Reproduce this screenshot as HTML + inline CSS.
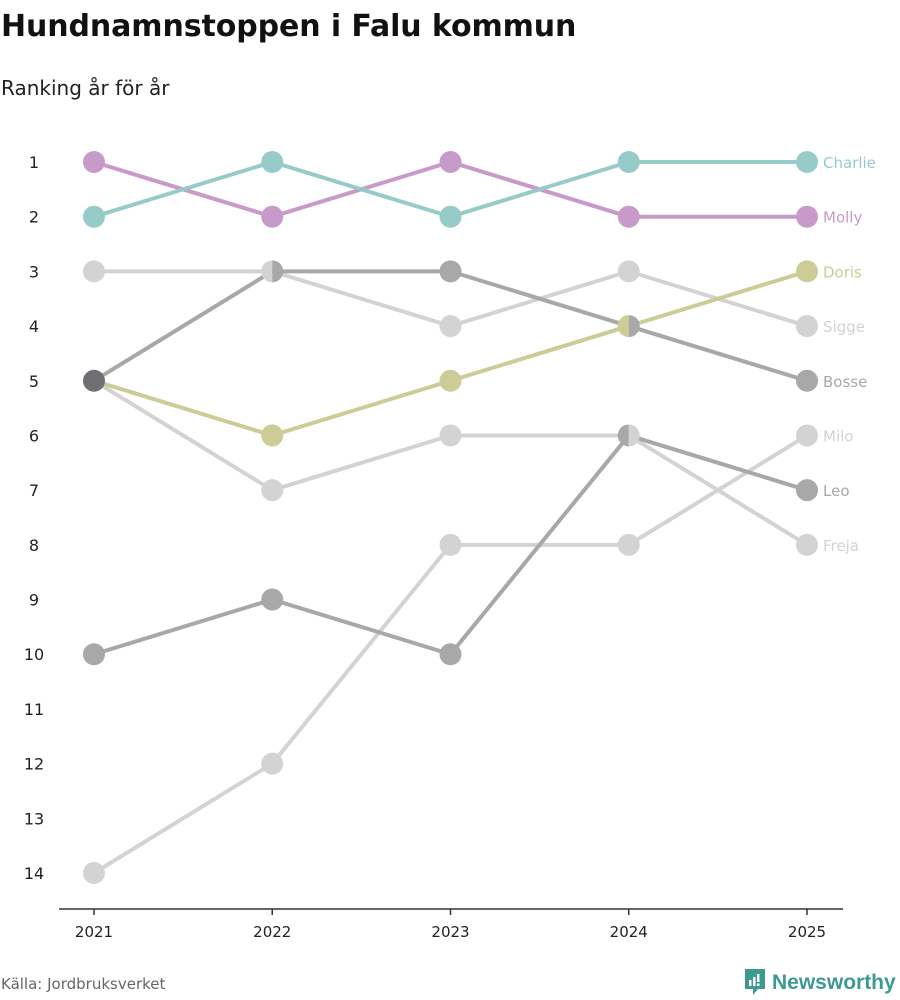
<!DOCTYPE html>
<html><head><meta charset="utf-8">
<style>
body{margin:0;background:#fff;font-family:"DejaVu Sans","Liberation Sans",sans-serif;}
#wrap{position:relative;width:900px;height:1000px;overflow:hidden;}
</style></head>
<body>
<div id="wrap">
<div style="position:absolute;left:1px;top:9px;font-size:30px;font-weight:bold;color:#111;letter-spacing:-0.1px">Hundnamnstoppen i Falu kommun</div>
<div style="position:absolute;left:1px;top:76px;font-size:20px;color:#222">Ranking år för år</div>
<svg id="chart" width="900" height="1000" style="position:absolute;left:0;top:0"></svg>
<div style="position:absolute;left:1px;top:975px;font-size:15px;color:#666">Källa: Jordbruksverket</div>
<div style="position:absolute;left:743px;top:968px;display:flex;align-items:center">
<svg width="24" height="30" viewBox="0 0 24 30"><path d="M2 1h20v20h-7l-5 6v-6H2z" fill="#3d9a91"/><rect x="6" y="12" width="2.5" height="6" fill="#fff"/><rect x="10" y="9" width="2.5" height="9" fill="#fff"/><rect x="14" y="6" width="2.5" height="8" fill="#fff"/><rect x="14" y="15.5" width="2.5" height="2.5" fill="#fff"/></svg>
<span style="font-family:'Liberation Sans',sans-serif;font-size:21px;font-weight:bold;color:#3d9a91;margin-left:5px">Newsworthy</span></div>
</div>
<script>
const years=[2021,2022,2023,2024,2025];
const seriesNames=["Charlie","Molly","Doris","Sigge","Bosse","Milo","Leo","Freja"];
const seriesColors=["#96cbc9","#c89ac9","#cbcc96","#d3d3d3","#a8a8a8","#d3d3d3","#a8a8a8","#d3d3d3"];
const charlie=[2,1,2,1,1];
const molly=[1,2,1,2,2];
const doris=[5,6,5,4,3];
const sigge=[3,3,4,3,4];
const bosse=[5,3,3,4,5];
const milo=[14,12,8,8,6];
const leo=[10,9,10,6,7];
const freja=[5,7,6,6,8];
const rankTicks=[1,2,3,4,5,6,7,8,9,10,11,12,13,14];
const seriesValues=[charlie,molly,doris,sigge,bosse,milo,leo,freja];

const NS="http://www.w3.org/2000/svg";
const svg=document.getElementById('chart');
function x(i){return 94+i*(807-94)/(years.length-1);}
function y(r){return 162+(r-1)*(873-162)/13;}
function el(t,a){const e=document.createElementNS(NS,t);for(const k in a)e.setAttribute(k,a[k]);svg.appendChild(e);return e;}

const ax=el('line',{x1:59,x2:843,y1:909,y2:909,stroke:'#333','stroke-width':1.5});


years.forEach((yr,i)=>{
  const t=el('line',{x1:x(i),x2:x(i),y1:909,y2:915,stroke:'#333','stroke-width':1.5});
  
  
  const l=el('text',{x:x(i),y:937,'text-anchor':'middle','font-size':15,fill:'#222'});
  l.textContent=yr;
  
  
});
rankTicks.forEach(r=>{
  const l=el('text',{x:34,y:y(r)+6,'text-anchor':'middle','font-size':16,fill:'#222'});
  l.textContent=r;
  
  
});
const order=[3,5,7,4,6,2,1,0];
order.forEach(s=>{
  const pts=seriesValues[s].map((v,i)=>x(i)+','+y(v)).join(' ');
  const p=el('polyline',{points:pts,fill:'none',stroke:seriesColors[s],'stroke-width':4});
  
  
});
const groups={};
seriesValues.forEach((vals,s)=>vals.forEach((v,i)=>{const k=i+'_'+v;(groups[k]=groups[k]||[]).push(s);}));
const R=11;
Object.keys(groups).forEach(k=>{
  const [i,v]=k.split('_').map(Number);
  const g=groups[k];const cx=x(i),cy=y(v);
  if(g.length===1){
    const c=el('circle',{cx:cx,cy:cy,r:R,fill:seriesColors[g[0]]});
    
    
  }else if(g.length===2){
    const a=el('path',{d:`M${cx} ${cy-R}A${R} ${R} 0 0 0 ${cx} ${cy+R}Z`,fill:seriesColors[g[0]]});
    
    
    const b=el('path',{d:`M${cx} ${cy-R}A${R} ${R} 0 0 1 ${cx} ${cy+R}Z`,fill:seriesColors[g[1]]});
    
    
  }else{
    const c=el('circle',{cx:cx,cy:cy,r:R,fill:'#6e6e73'});
    
    
  }
});
seriesValues.forEach((vals,s)=>{
  const l=el('text',{x:823,y:y(vals[vals.length-1])+6,'font-size':15,fill:seriesColors[s]});
  l.textContent=seriesNames[s];
  
  
});
</script>
</body></html>
